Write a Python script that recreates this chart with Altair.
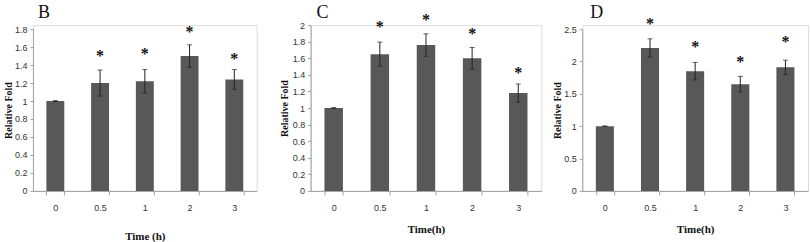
import altair as alt
import pandas as pd

times = ["0", "0.5", "1", "2", "3"]

b_mean = [1.0, 1.20, 1.22, 1.50, 1.24]
b_err = [0.005, 0.145, 0.13, 0.125, 0.11]
b_star = [None, 1.55, 1.57, 1.81, 1.51]
b_ticks = [0, 0.2, 0.4, 0.6, 0.8, 1.0, 1.2, 1.4, 1.6, 1.8]

c_mean = [1.0, 1.65, 1.76, 1.60, 1.18]
c_err = [0.005, 0.145, 0.135, 0.13, 0.11]
c_star = [None, 2.02, 2.11, 1.94, 1.47]
c_ticks = [0, 0.2, 0.4, 0.6, 0.8, 1.0, 1.2, 1.4, 1.6, 1.8, 2.0]

d_mean = [1.0, 2.21, 1.85, 1.65, 1.91]
d_err = [0.005, 0.14, 0.135, 0.12, 0.11]
d_star = [None, 2.64, 2.29, 2.06, 2.37]
d_ticks = [0, 0.5, 1.0, 1.5, 2.0, 2.5]

BAR = "#585858"
AX = "#a0a0a0"
SERIF = "Liberation Serif"
SANS = "Liberation Sans"
H = 166


def panel(letter, lx, ly, mean, err, star, ymax, ticks, width, ytop, xtitle, xtp, ytp):
    df = pd.DataFrame({
        "t": times,
        "m": mean,
        "lo": [m - e for m, e in zip(mean, err)],
        "hi": [m + e for m, e in zip(mean, err)],
        "s": star,
    })
    xs = alt.X("t:N", sort=times)
    x = alt.X("t:N", sort=times,
              scale=alt.Scale(paddingInner=0.6, paddingOuter=0.3),
              axis=alt.Axis(title=xtitle, labelAngle=0, tickBand="extent",
                            domainColor=AX, tickColor=AX, tickSize=4,
                            labelFont=SANS, labelFontSize=9, labelColor="#333",
                            labelPadding=9, titleFont=SERIF, titleFontSize=11,
                            titleFontWeight="bold", titleColor="#111",
                            titlePadding=xtp))
    yscale = alt.Scale(domain=[0, ymax], nice=False, range=[H, ytop])
    yaxis = alt.Axis(title="Relative Fold", values=ticks, tickCount=40, format="~g",
                     grid=False, labelOverlap=False, labelFlush=False,
                     domainColor=AX, tickColor=AX, tickSize=3, labelPadding=3,
                     labelFont=SANS, labelFontSize=9, labelColor="#333",
                     titleFont=SERIF, titleFontSize=10, titleFontWeight="bold",
                     titleColor="#111", titlePadding=ytp)
    base = alt.Chart(df)
    bars = base.mark_bar(color=BAR).encode(x=x, y=alt.Y("m:Q", scale=yscale, axis=yaxis))
    rule = base.mark_rule(color="#222", strokeWidth=1).encode(x=xs, y=alt.Y("lo:Q"), y2="hi:Q")
    cap_hi = base.mark_tick(color="#222", thickness=1, size=5, orient="horizontal").encode(
        x=xs, y=alt.Y("hi:Q"))
    cap_lo = base.mark_tick(color="#222", thickness=1, size=5, orient="horizontal").encode(
        x=xs, y=alt.Y("lo:Q"))
    stars = base.transform_filter("datum.s != null").mark_text(
        text="*", font=SERIF, fontSize=16, fontWeight="bold", color="#111",
        baseline="middle", dy=4).encode(x=xs, y=alt.Y("s:Q"))
    lab = alt.Chart(pd.DataFrame({"l": [letter]})).mark_text(
        font=SERIF, fontSize=18, color="#111", align="left", baseline="alphabetic"
    ).encode(x=alt.value(lx), y=alt.value(ly), text="l:N")
    return alt.layer(bars, rule, cap_hi, cap_lo, stars, lab).properties(
        width=width, height=H)


pB = panel("B", 5, -7, b_mean, b_err, b_star, 1.8, b_ticks, 224, 4, "Time (h)", 18, 1)
pC = panel("C", 6, -7, c_mean, c_err, c_star, 2.0, c_ticks, 231, 0, "Time(h)", 11, 3)
pD = panel("D", 8, -7, d_mean, d_err, d_star, 2.5, d_ticks, 226, 4, "Time(h)", 11, 1)

left = alt.hconcat(pB, pC, spacing=20).resolve_scale(y="independent")
chart = alt.hconcat(left, pD, spacing=9).resolve_scale(y="independent").properties(
    padding={"left": 2, "top": 3, "right": 2, "bottom": 0}
).configure_view(stroke=None).configure_axisY(
    labelOverlap=False, labelFlush=False
).configure(background="white")

chart.save("out.html", embed_options={"renderer": "svg", "actions": False})
